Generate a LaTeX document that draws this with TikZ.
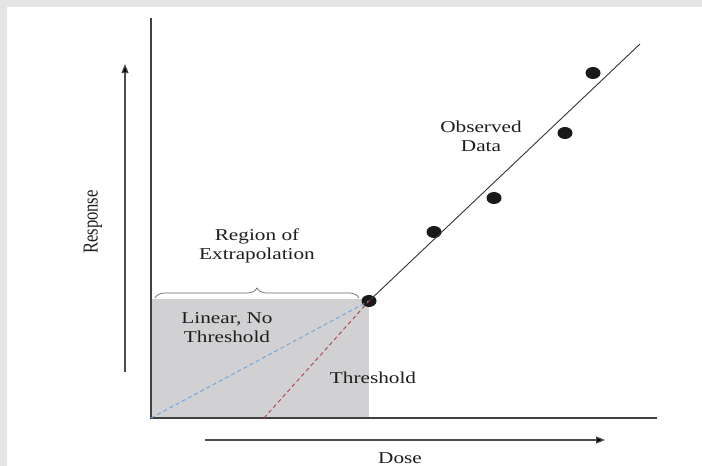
\documentclass[tikz,border=0pt]{standalone}
\usepackage{fontspec}
\setmainfont{Liberation Serif}
\usetikzlibrary{decorations.pathreplacing,arrows.meta,shapes.geometric}
\definecolor{regiongrey}{HTML}{D1D1D3}
\definecolor{txt}{HTML}{1E1E1E}
\definecolor{lnbl}{HTML}{6AA2DA}
\definecolor{lnrd}{HTML}{B0404A}
\definecolor{bordergrey}{HTML}{E4E4E4}
\newcommand{\hs}[1]{\scalebox{1.28}[1]{#1}}
\begin{document}
\begin{tikzpicture}[x=1pt,y=-1pt,
  lbl/.style={text=txt,font=\fontsize{16.6}{20}\selectfont,inner sep=0pt,align=center},
  axisline/.style={draw=black!75,line width=1.4pt},
  dot/.style={ellipse,fill=black!90,minimum width=15pt,minimum height=12pt,inner sep=0pt},
  dirarrow/.style={draw=black!70,line width=1.1pt,-{Triangle[length=9pt,width=7pt,fill=black]}},
  fitline/.style={draw=black!80,line width=0.9pt}]
\useasboundingbox (0,0) rectangle (702,466);
\fill[bordergrey] (0,0) rectangle (702,466);
\fill[white] (7,7) rectangle (702,466);
% shaded region
\fill[regiongrey] (151,299) rectangle (369,418);
% axes
\coordinate (o) at (151,418);
\coordinate (ytop) at (151,18);
\coordinate (xend) at (657,418);
\draw[axisline] (ytop) -- (o) -- (xend);
% direction arrows
\coordinate (ra) at (125,372);
\coordinate (rb) at (125,64);
\draw[dirarrow] (ra) -- (rb);
\coordinate (da) at (205,440);
\coordinate (db) at (605,440);
\draw[dirarrow] (da) -- (db);
\node[lbl,rotate=90] (resp) at (93,222) {\scalebox{1}[1.28]{Response}};
\node[lbl] (dose) at (400,458) {\hs{Dose}};
% brace
\coordinate (b1) at (155,298);
\coordinate (b2) at (359,298);
\draw[draw=black!60,line width=0.7pt,decorate,decoration={brace,amplitude=10pt,aspect=0.5}] (b1) -- (b2);
\node[lbl] (region) at (257,246) {\hs{\begin{tabular}{@{}c@{}}Region of\\[-1pt]Extrapolation\end{tabular}}};
% data
\node[dot] (d1) at (369,301) {};
\node[dot] (d2) at (434,232) {};
\node[dot] (d3) at (494,198) {};
\node[dot] (d4) at (565,133) {};
\node[dot] (d5) at (593,73) {};
\coordinate (ftop) at (640,44);
\draw[fitline] (d1.center) -- (ftop);
% extrapolation lines
\coordinate (rs) at (264,418);
\draw[lnbl,line width=0.9pt,dash pattern=on 4pt off 3pt] (o) -- (d1.center);
\draw[lnrd,line width=0.9pt,dash pattern=on 4pt off 3pt] (rs) -- (d1.center);
% labels
\node[lbl] (obs) at (481,138) {\hs{\begin{tabular}{@{}c@{}}Observed\\[-1pt]Data\end{tabular}}};
\node[lbl] (lnt) at (227,329) {\hs{\begin{tabular}{@{}c@{}}Linear, No\\[-1pt]Threshold\end{tabular}}};
\node[lbl] (thr) at (373,378) {\hs{Threshold}};
\end{tikzpicture}
\end{document}
